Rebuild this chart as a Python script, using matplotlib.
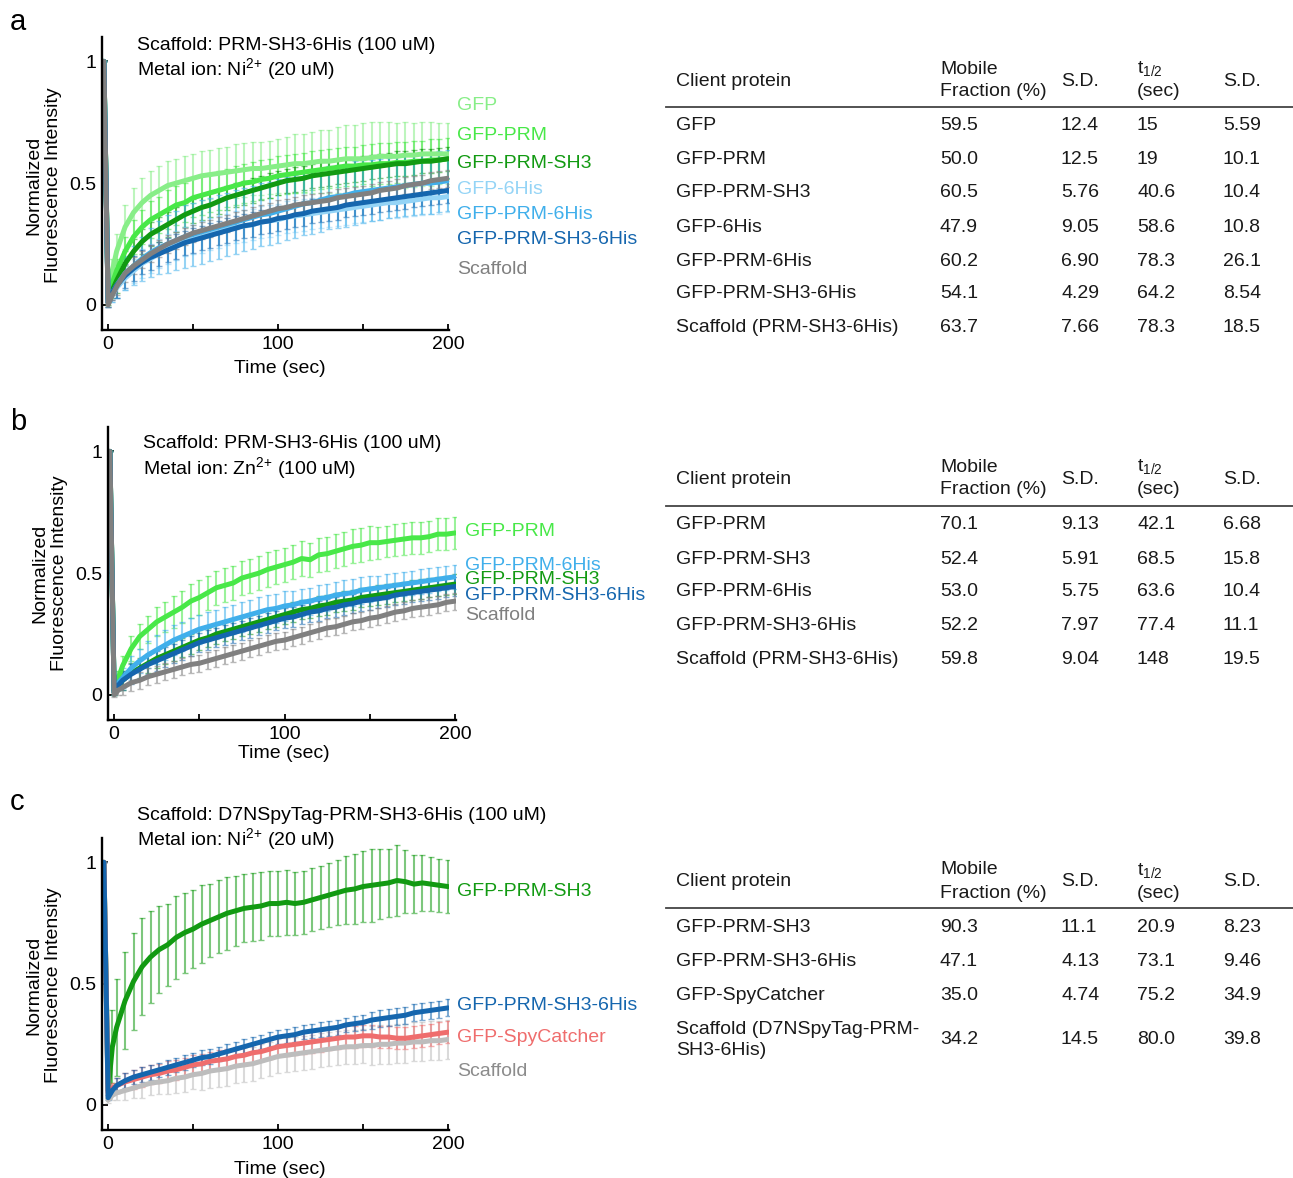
import numpy as np
import matplotlib
matplotlib.use('Agg')
import matplotlib.pyplot as plt
from matplotlib.lines import Line2D
from matplotlib.colors import to_rgba

plt.rcParams['font.family'] = ['Liberation Sans', 'DejaVu Sans']
plt.rcParams['mathtext.fontset'] = 'custom'
plt.rcParams['mathtext.rm'] = 'Liberation Sans'
plt.rcParams['mathtext.it'] = 'Liberation Sans:italic'
plt.rcParams['mathtext.bf'] = 'Liberation Sans:bold'

W, H = 1293, 1178

# time points (sec): pre-bleach, bleach, then every 5 s
time_s = np.concatenate([[-2.5, 0, 2.5], np.arange(5, 201, 5)])

# ---------------- panel a (Ni2+ 20 uM) ----------------
a_gfp = [1.0, 0.03, 0.14,
         0.22, 0.32, 0.38, 0.42, 0.45, 0.47, 0.49, 0.50, 0.51, 0.52,
         0.53, 0.535, 0.54, 0.545, 0.55, 0.555, 0.56, 0.56, 0.565, 0.57,
         0.575, 0.58, 0.58, 0.585, 0.59, 0.59, 0.595, 0.60, 0.60, 0.60,
         0.605, 0.61, 0.61, 0.61, 0.615, 0.615, 0.62, 0.62, 0.62, 0.62]
a_gfp_sd = [0, 0.02, 0.05,
            0.07, 0.09, 0.10, 0.10, 0.10, 0.10, 0.10, 0.10, 0.10, 0.10,
            0.10, 0.10, 0.105, 0.105, 0.11, 0.11, 0.11, 0.11, 0.11, 0.11,
            0.115, 0.12, 0.12, 0.125, 0.13, 0.13, 0.135, 0.14, 0.14, 0.145,
            0.145, 0.14, 0.14, 0.135, 0.135, 0.13, 0.13, 0.13, 0.125, 0.125]
a_prm = [1.0, 0.03, 0.09,
         0.14, 0.22, 0.28, 0.32, 0.35, 0.37, 0.39, 0.41, 0.42, 0.44,
         0.45, 0.46, 0.47, 0.48, 0.49, 0.50, 0.505, 0.515, 0.52, 0.53,
         0.535, 0.54, 0.545, 0.55, 0.555, 0.56, 0.565, 0.57, 0.57, 0.575,
         0.575, 0.58, 0.58, 0.585, 0.585, 0.59, 0.59, 0.595, 0.595, 0.60]
a_prm_sd = [0, 0.02, 0.04,
            0.05, 0.06, 0.07, 0.07, 0.075, 0.075, 0.08, 0.08, 0.08, 0.08,
            0.08, 0.08, 0.08, 0.08, 0.08, 0.08, 0.08, 0.08, 0.08, 0.08,
            0.08, 0.08, 0.08, 0.08, 0.08, 0.08, 0.08, 0.08, 0.08, 0.08,
            0.085, 0.085, 0.085, 0.085, 0.085, 0.085, 0.085, 0.085, 0.085, 0.085]
a_prm_sh3 = [1.0, 0.02, 0.06,
             0.10, 0.17, 0.22, 0.26, 0.29, 0.31, 0.33, 0.35, 0.37, 0.385,
             0.40, 0.41, 0.425, 0.44, 0.45, 0.46, 0.47, 0.48, 0.49, 0.50,
             0.51, 0.515, 0.52, 0.53, 0.535, 0.54, 0.545, 0.55, 0.555, 0.56,
             0.565, 0.57, 0.575, 0.58, 0.58, 0.585, 0.59, 0.59, 0.595, 0.60]
a_prm_sh3_sd = [0, 0.02, 0.03,
                0.05, 0.05, 0.05, 0.05, 0.05, 0.05, 0.05, 0.05, 0.05, 0.05,
                0.05, 0.05, 0.05, 0.05, 0.05, 0.05, 0.05, 0.05, 0.05, 0.05,
                0.05, 0.05, 0.05, 0.05, 0.05, 0.05, 0.05, 0.05, 0.05, 0.05,
                0.05, 0.05, 0.05, 0.05, 0.05, 0.05, 0.05, 0.05, 0.05, 0.05]
a_his = [1.0, 0.01, 0.04,
         0.07, 0.11, 0.14, 0.17, 0.19, 0.21, 0.23, 0.245, 0.26, 0.27,
         0.28, 0.29, 0.30, 0.31, 0.32, 0.325, 0.33, 0.34, 0.345, 0.35,
         0.36, 0.365, 0.37, 0.375, 0.38, 0.385, 0.39, 0.395, 0.40, 0.405,
         0.41, 0.415, 0.42, 0.42, 0.425, 0.43, 0.435, 0.44, 0.44, 0.445]
a_his_sd = [0, 0.02, 0.03,
            0.04, 0.05, 0.05, 0.06, 0.06, 0.06, 0.06, 0.06, 0.06, 0.06,
            0.065, 0.065, 0.065, 0.065, 0.065, 0.065, 0.065, 0.065, 0.065, 0.065,
            0.065, 0.065, 0.065, 0.065, 0.065, 0.065, 0.065, 0.065, 0.065, 0.065,
            0.065, 0.065, 0.065, 0.065, 0.065, 0.065, 0.065, 0.065, 0.065, 0.065]
a_prm_his = [1.0, 0.01, 0.05,
             0.08, 0.13, 0.16, 0.19, 0.215, 0.235, 0.25, 0.265, 0.28, 0.29,
             0.30, 0.31, 0.32, 0.33, 0.34, 0.35, 0.36, 0.37, 0.375, 0.385,
             0.395, 0.405, 0.415, 0.42, 0.43, 0.44, 0.445, 0.45, 0.46, 0.465,
             0.47, 0.475, 0.48, 0.485, 0.49, 0.495, 0.50, 0.50, 0.505, 0.51]
a_prm_his_sd = [0, 0.02, 0.04,
                0.05, 0.07, 0.08, 0.09, 0.10, 0.11, 0.12, 0.12, 0.13, 0.13,
                0.13, 0.13, 0.13, 0.13, 0.13, 0.13, 0.13, 0.13, 0.13, 0.13,
                0.13, 0.13, 0.13, 0.13, 0.13, 0.13, 0.13, 0.13, 0.13, 0.13,
                0.125, 0.125, 0.125, 0.125, 0.125, 0.125, 0.125, 0.125, 0.125, 0.125]
a_prm_sh3_his = [1.0, 0.01, 0.05,
                 0.08, 0.12, 0.15, 0.175, 0.195, 0.21, 0.225, 0.24, 0.255, 0.265,
                 0.275, 0.285, 0.295, 0.305, 0.315, 0.325, 0.33, 0.34, 0.345, 0.355,
                 0.36, 0.37, 0.375, 0.385, 0.39, 0.395, 0.40, 0.41, 0.415, 0.42,
                 0.425, 0.43, 0.435, 0.44, 0.445, 0.45, 0.455, 0.46, 0.465, 0.47]
a_prm_sh3_his_sd = [0, 0.02, 0.03,
                    0.05, 0.05, 0.05, 0.05, 0.05, 0.05, 0.05, 0.05, 0.05, 0.05,
                    0.05, 0.05, 0.05, 0.05, 0.05, 0.05, 0.05, 0.05, 0.05, 0.05,
                    0.05, 0.05, 0.05, 0.05, 0.05, 0.05, 0.05, 0.05, 0.05, 0.05,
                    0.05, 0.05, 0.05, 0.05, 0.05, 0.05, 0.05, 0.05, 0.05, 0.05]
a_scaf = [1.0, 0.0, 0.04,
          0.075, 0.13, 0.16, 0.185, 0.21, 0.23, 0.25, 0.265, 0.28, 0.295,
          0.305, 0.315, 0.325, 0.335, 0.345, 0.355, 0.365, 0.375, 0.385, 0.395,
          0.40, 0.41, 0.415, 0.42, 0.425, 0.43, 0.44, 0.445, 0.45, 0.455,
          0.46, 0.47, 0.475, 0.48, 0.49, 0.495, 0.50, 0.51, 0.515, 0.52]
a_scaf_sd = [0, 0.01, 0.02,
             0.035, 0.035, 0.035, 0.035, 0.035, 0.035, 0.035, 0.035, 0.035, 0.035,
             0.035, 0.035, 0.035, 0.035, 0.035, 0.035, 0.035, 0.035, 0.035, 0.035,
             0.035, 0.035, 0.035, 0.035, 0.035, 0.035, 0.035, 0.035, 0.035, 0.035,
             0.035, 0.035, 0.035, 0.035, 0.035, 0.035, 0.035, 0.035, 0.035, 0.035]

# ---------------- panel b (Zn2+ 100 uM) ----------------
b_prm = [1.0, 0.02, 0.07,
         0.12, 0.19, 0.24, 0.27, 0.30, 0.32, 0.34, 0.36, 0.385, 0.40,
         0.42, 0.44, 0.45, 0.46, 0.48, 0.49, 0.50, 0.515, 0.525, 0.535,
         0.545, 0.56, 0.555, 0.575, 0.58, 0.59, 0.60, 0.61, 0.615, 0.625,
         0.625, 0.63, 0.635, 0.64, 0.645, 0.645, 0.65, 0.66, 0.66, 0.665]
b_prm_sd = [0, 0.02, 0.03,
            0.04, 0.05, 0.05, 0.055, 0.06, 0.06, 0.065, 0.065, 0.07, 0.07,
            0.07, 0.07, 0.07, 0.07, 0.07, 0.07, 0.07, 0.07, 0.07, 0.07,
            0.07, 0.07, 0.07, 0.07, 0.07, 0.07, 0.07, 0.07, 0.07, 0.07,
            0.065, 0.065, 0.065, 0.065, 0.065, 0.065, 0.065, 0.065, 0.065, 0.065]
b_prm_sh3 = [1.0, 0.01, 0.04,
             0.06, 0.09, 0.11, 0.13, 0.15, 0.165, 0.18, 0.195, 0.21, 0.225,
             0.235, 0.25, 0.26, 0.27, 0.28, 0.29, 0.30, 0.31, 0.32, 0.33,
             0.34, 0.35, 0.355, 0.365, 0.37, 0.38, 0.385, 0.39, 0.40, 0.405,
             0.41, 0.415, 0.42, 0.425, 0.43, 0.435, 0.44, 0.445, 0.45, 0.455]
b_prm_sh3_sd = [0, 0.01, 0.02,
                0.04, 0.04, 0.04, 0.04, 0.04, 0.04, 0.04, 0.04, 0.04, 0.04,
                0.04, 0.04, 0.04, 0.04, 0.04, 0.04, 0.04, 0.04, 0.04, 0.04,
                0.04, 0.04, 0.04, 0.04, 0.04, 0.04, 0.04, 0.04, 0.04, 0.04,
                0.04, 0.04, 0.04, 0.04, 0.04, 0.04, 0.04, 0.04, 0.04, 0.04]
b_prm_his = [1.0, 0.01, 0.05,
             0.07, 0.11, 0.14, 0.165, 0.185, 0.205, 0.225, 0.24, 0.255, 0.27,
             0.28, 0.29, 0.30, 0.31, 0.32, 0.33, 0.34, 0.35, 0.355, 0.365,
             0.37, 0.38, 0.385, 0.395, 0.40, 0.41, 0.415, 0.42, 0.43, 0.435,
             0.44, 0.445, 0.45, 0.455, 0.46, 0.465, 0.47, 0.475, 0.48, 0.485]
b_prm_his_sd = [0, 0.01, 0.03,
                0.04, 0.05, 0.05, 0.055, 0.06, 0.06, 0.06, 0.06, 0.06, 0.06,
                0.06, 0.06, 0.06, 0.06, 0.06, 0.06, 0.06, 0.06, 0.06, 0.06,
                0.055, 0.055, 0.055, 0.055, 0.055, 0.055, 0.055, 0.055, 0.055, 0.055,
                0.05, 0.05, 0.05, 0.05, 0.05, 0.05, 0.05, 0.05, 0.05, 0.05]
b_prm_sh3_his = [1.0, 0.01, 0.04,
                 0.06, 0.085, 0.105, 0.125, 0.14, 0.155, 0.17, 0.185, 0.20, 0.215,
                 0.225, 0.235, 0.245, 0.255, 0.265, 0.275, 0.285, 0.295, 0.305, 0.315,
                 0.32, 0.33, 0.34, 0.345, 0.355, 0.36, 0.37, 0.375, 0.385, 0.39,
                 0.395, 0.40, 0.41, 0.415, 0.42, 0.425, 0.43, 0.435, 0.44, 0.445]
b_prm_sh3_his_sd = [0, 0.01, 0.02,
                    0.04, 0.04, 0.04, 0.04, 0.04, 0.04, 0.04, 0.04, 0.04, 0.04,
                    0.04, 0.04, 0.04, 0.04, 0.04, 0.04, 0.04, 0.04, 0.04, 0.04,
                    0.04, 0.04, 0.04, 0.04, 0.04, 0.04, 0.04, 0.04, 0.04, 0.04,
                    0.04, 0.04, 0.04, 0.04, 0.04, 0.04, 0.04, 0.04, 0.04, 0.04]
b_scaf = [1.0, 0.0, 0.02,
          0.03, 0.05, 0.06, 0.075, 0.085, 0.095, 0.105, 0.115, 0.125, 0.13,
          0.14, 0.15, 0.16, 0.17, 0.18, 0.19, 0.20, 0.21, 0.22, 0.225,
          0.235, 0.245, 0.255, 0.265, 0.275, 0.28, 0.29, 0.30, 0.305, 0.315,
          0.32, 0.33, 0.34, 0.345, 0.355, 0.36, 0.365, 0.37, 0.38, 0.385]
b_scaf_sd = [0, 0.01, 0.02,
             0.03, 0.035, 0.035, 0.035, 0.035, 0.035, 0.035, 0.035, 0.035, 0.035,
             0.035, 0.035, 0.035, 0.035, 0.035, 0.035, 0.035, 0.035, 0.035, 0.035,
             0.035, 0.035, 0.035, 0.035, 0.035, 0.035, 0.035, 0.035, 0.035, 0.035,
             0.035, 0.035, 0.035, 0.035, 0.035, 0.035, 0.035, 0.035, 0.035, 0.035]

# ---------------- panel c (D7NSpyTag scaffold, Ni2+ 20 uM) ----------------
c_prm_sh3 = [1.0, 0.06, 0.24,
             0.32, 0.43, 0.51, 0.57, 0.61, 0.64, 0.66, 0.69, 0.71, 0.725,
             0.745, 0.76, 0.775, 0.79, 0.80, 0.81, 0.815, 0.82, 0.83, 0.83,
             0.835, 0.83, 0.835, 0.845, 0.855, 0.865, 0.875, 0.885, 0.89, 0.90,
             0.905, 0.91, 0.915, 0.925, 0.92, 0.91, 0.915, 0.91, 0.905, 0.90]
c_prm_sh3_sd = [0, 0.03, 0.15,
                0.20, 0.20, 0.20, 0.20, 0.19, 0.18, 0.17, 0.17, 0.165, 0.16,
                0.16, 0.15, 0.15, 0.15, 0.145, 0.14, 0.14, 0.14, 0.135, 0.135,
                0.135, 0.13, 0.13, 0.13, 0.13, 0.13, 0.135, 0.14, 0.145, 0.145,
                0.15, 0.145, 0.14, 0.145, 0.13, 0.12, 0.115, 0.11, 0.11, 0.11]
c_prm_sh3_his = [1.0, 0.03, 0.06,
                 0.08, 0.10, 0.115, 0.125, 0.135, 0.145, 0.155, 0.165, 0.175, 0.185,
                 0.195, 0.20, 0.21, 0.22, 0.23, 0.24, 0.25, 0.26, 0.27, 0.28,
                 0.285, 0.29, 0.30, 0.305, 0.31, 0.315, 0.32, 0.33, 0.335, 0.34,
                 0.35, 0.355, 0.36, 0.365, 0.37, 0.38, 0.385, 0.39, 0.395, 0.40]
c_prm_sh3_his_sd = [0, 0.01, 0.02,
                    0.03, 0.03, 0.03, 0.03, 0.03, 0.03, 0.03, 0.03, 0.03, 0.03,
                    0.03, 0.03, 0.03, 0.03, 0.03, 0.03, 0.03, 0.03, 0.03, 0.03,
                    0.03, 0.03, 0.03, 0.03, 0.03, 0.03, 0.03, 0.03, 0.03, 0.03,
                    0.035, 0.035, 0.035, 0.035, 0.035, 0.035, 0.035, 0.035, 0.035, 0.035]
c_spy = [1.0, 0.05, 0.07,
         0.08, 0.095, 0.105, 0.115, 0.125, 0.13, 0.14, 0.145, 0.155, 0.165,
         0.17, 0.18, 0.185, 0.19, 0.20, 0.205, 0.215, 0.22, 0.23, 0.24,
         0.245, 0.25, 0.255, 0.26, 0.265, 0.27, 0.275, 0.28, 0.28, 0.285,
         0.285, 0.28, 0.28, 0.275, 0.275, 0.28, 0.285, 0.29, 0.295, 0.30]
c_spy_sd = [0, 0.01, 0.02,
            0.03, 0.035, 0.04, 0.04, 0.04, 0.04, 0.04, 0.04, 0.04, 0.04,
            0.04, 0.04, 0.04, 0.04, 0.04, 0.04, 0.04, 0.04, 0.04, 0.04,
            0.045, 0.045, 0.045, 0.045, 0.045, 0.045, 0.045, 0.045, 0.045, 0.045,
            0.045, 0.045, 0.045, 0.045, 0.045, 0.045, 0.045, 0.045, 0.045, 0.045]
c_scaf = [1.0, 0.02, 0.04,
          0.05, 0.06, 0.07, 0.08, 0.09, 0.095, 0.10, 0.11, 0.115, 0.125,
          0.13, 0.14, 0.145, 0.15, 0.16, 0.165, 0.17, 0.18, 0.19, 0.20,
          0.205, 0.21, 0.215, 0.22, 0.225, 0.23, 0.235, 0.24, 0.24, 0.245,
          0.245, 0.25, 0.25, 0.255, 0.255, 0.26, 0.26, 0.265, 0.265, 0.27]
c_scaf_sd = [0, 0.01, 0.02,
             0.03, 0.04, 0.04, 0.05, 0.05, 0.05, 0.055, 0.06, 0.06, 0.06,
             0.07, 0.07, 0.07, 0.07, 0.07, 0.07, 0.07, 0.07, 0.07, 0.07,
             0.07, 0.07, 0.07, 0.07, 0.07, 0.07, 0.07, 0.07, 0.07, 0.07,
             0.08, 0.08, 0.08, 0.08, 0.08, 0.08, 0.08, 0.08, 0.08, 0.08]

# ---------------- tables ----------------
tab_a_names = ['GFP', 'GFP-PRM', 'GFP-PRM-SH3', 'GFP-6His', 'GFP-PRM-6His',
               'GFP-PRM-SH3-6His', 'Scaffold (PRM-SH3-6His)']
tab_a_mf = ['59.5', '50.0', '60.5', '47.9', '60.2', '54.1', '63.7']
tab_a_mf_sd = ['12.4', '12.5', '5.76', '9.05', '6.90', '4.29', '7.66']
tab_a_t = ['15', '19', '40.6', '58.6', '78.3', '64.2', '78.3']
tab_a_t_sd = ['5.59', '10.1', '10.4', '10.8', '26.1', '8.54', '18.5']

tab_b_names = ['GFP-PRM', 'GFP-PRM-SH3', 'GFP-PRM-6His', 'GFP-PRM-SH3-6His',
               'Scaffold (PRM-SH3-6His)']
tab_b_mf = ['70.1', '52.4', '53.0', '52.2', '59.8']
tab_b_mf_sd = ['9.13', '5.91', '5.75', '7.97', '9.04']
tab_b_t = ['42.1', '68.5', '63.6', '77.4', '148']
tab_b_t_sd = ['6.68', '15.8', '10.4', '11.1', '19.5']

tab_c_names = ['GFP-PRM-SH3', 'GFP-PRM-SH3-6His', 'GFP-SpyCatcher',
               'Scaffold (D7NSpyTag-PRM-\nSH3-6His)']
tab_c_mf = ['90.3', '47.1', '35.0', '34.2']
tab_c_mf_sd = ['11.1', '4.13', '4.74', '14.5']
tab_c_t = ['20.9', '73.1', '75.2', '80.0']
tab_c_t_sd = ['8.23', '9.46', '34.9', '39.8']

# colours
C_GFP = '#88ee88'
C_PRM = '#48e848'
C_SH3 = '#129a12'
C_HIS = '#94d4f6'
C_PRMHIS = '#40afeb'
C_SH3HIS = '#1566ae'
C_SCAF = '#808080'
C_SPY = '#ef6d6d'
C_SCAF_C = '#bdbdbd'

FS = 14
fig = plt.figure(figsize=(W / 100, H / 100), dpi=100)


def fx(x):
    return x / W


def fy(y):
    return 1 - y / H


def ft(y):
    # text centre (va='center' sits a touch high)
    return 1 - (y + 2) / H


def draw_series(ax, mean, sd, color, lw=3.6):
    ax.errorbar(time_s, mean, yerr=sd, fmt='-', color=color, lw=lw,
                ecolor=to_rgba(color, 0.55), elinewidth=1.5,
                capsize=2.2, capthick=1.0, solid_capstyle='round')


def setup_axes(ax):
    ax.set_xlim(-3.6, 200.6)
    ax.set_ylim(-0.103, 1.10)
    for s in ['top', 'right']:
        ax.spines[s].set_visible(False)
    for s in ['left', 'bottom']:
        ax.spines[s].set_linewidth(1.7)
    ax.set_xticks([0, 50, 100, 150, 200])
    ax.set_xticklabels(['0', '', '100', '', '200'])
    ax.set_yticks([0, 0.5, 1])
    ax.set_yticklabels(['0', '0.5', '1'])
    ax.tick_params(direction='in', length=4, width=1.3, labelsize=FS, pad=4)


def panel(rect, series, ylab_xy, xlab_xy, legend):
    ax = fig.add_axes(rect)
    for mean, sd, col in series:
        draw_series(ax, mean, sd, col)
    setup_axes(ax)
    fig.text(fx(ylab_xy[0]), fy(ylab_xy[1]), 'Normalized\nFluorescence Intensity',
             rotation=90, ha='center', va='center', fontsize=FS, multialignment='center')
    fig.text(fx(xlab_xy[0]), ft(xlab_xy[1]), 'Time (sec)', ha='center', va='center',
             fontsize=FS)
    for txt, col, x, y in legend:
        fig.text(fx(x), ft(y), txt, color=col, ha='left', va='center', fontsize=FS)
    return ax


# panel a
panel([102 / W, 1 - 330 / H, 347 / W, 293 / H],
      [(a_gfp, a_gfp_sd, C_GFP), (a_prm, a_prm_sd, C_PRM),
       (a_prm_sh3, a_prm_sh3_sd, C_SH3), (a_his, a_his_sd, C_HIS),
       (a_prm_his, a_prm_his_sd, C_PRMHIS),
       (a_prm_sh3_his, a_prm_sh3_his_sd, C_SH3HIS),
       (a_scaf, a_scaf_sd, C_SCAF)],
      (44, 185), (280, 366),
      [('GFP', C_GFP, 457, 103), ('GFP-PRM', C_PRM, 457, 134),
       ('GFP-PRM-SH3', C_SH3, 457, 162), ('GFP-6His', C_HIS, 457, 187),
       ('GFP-PRM-6His', C_PRMHIS, 457, 212),
       ('GFP-PRM-SH3-6His', C_SH3HIS, 457, 238), ('Scaffold', C_SCAF, 457, 267)])

# panel b (labels crowd each other as in the original figure)
panel([108 / W, 1 - 720 / H, 348 / W, 293 / H],
      [(b_prm, b_prm_sd, C_PRM), (b_prm_sh3, b_prm_sh3_sd, C_SH3),
       (b_prm_his, b_prm_his_sd, C_PRMHIS),
       (b_prm_sh3_his, b_prm_sh3_his_sd, C_SH3HIS),
       (b_scaf, b_scaf_sd, C_SCAF)],
      (50, 573), (284, 752),
      [('GFP-PRM', C_PRM, 465, 529), ('GFP-PRM-6His', C_PRMHIS, 465, 563),
       ('GFP-PRM-SH3', C_SH3, 465, 577), ('GFP-PRM-SH3-6His', C_SH3HIS, 465, 594),
       ('Scaffold', C_SCAF, 465, 613)])

# panel c
panel([102 / W, 1 - 1130 / H, 347 / W, 292 / H],
      [(c_prm_sh3, c_prm_sh3_sd, C_SH3), (c_scaf, c_scaf_sd, C_SCAF_C),
       (c_spy, c_spy_sd, C_SPY), (c_prm_sh3_his, c_prm_sh3_his_sd, C_SH3HIS)],
      (44, 985), (280, 1167),
      [('GFP-PRM-SH3', C_SH3, 457, 889), ('GFP-PRM-SH3-6His', C_SH3HIS, 457, 1004),
       ('GFP-SpyCatcher', C_SPY, 457, 1035), ('Scaffold', '#8c8c8c', 457, 1069)])

# condition annotations
fig.text(fx(137), ft(43), 'Scaffold: PRM-SH3-6His (100 uM)', fontsize=FS, va='center')
fig.text(fx(137), ft(67), r'Metal ion: Ni$^{2{+}}$ (20 uM)', fontsize=FS, va='center')
fig.text(fx(143), ft(442), 'Scaffold: PRM-SH3-6His (100 uM)', fontsize=FS, va='center')
fig.text(fx(143), ft(466), r'Metal ion: Zn$^{2{+}}$ (100 uM)', fontsize=FS, va='center')
fig.text(fx(137), ft(814), 'Scaffold: D7NSpyTag-PRM-SH3-6His (100 uM)', fontsize=FS,
         va='center')
fig.text(fx(137), ft(837), r'Metal ion: Ni$^{2{+}}$ (20 uM)', fontsize=FS, va='center')

# panel letters
for letter, y in [('a', 20), ('b', 420), ('c', 800)]:
    fig.text(fx(10), ft(y), letter, fontsize=21, va='center', ha='left')


def table(y_head, y_line, rows_y, names, mf, mf_sd, t, t_sd):
    cols = [676, 940, 1061, 1137, 1223]
    kw = dict(fontsize=FS, va='center', ha='left', color='#1a1a1a')
    fig.text(fx(cols[0]), ft(y_head), 'Client protein', **kw)
    fig.text(fx(cols[1]), ft(y_head - 12), 'Mobile', **kw)
    fig.text(fx(cols[1]), ft(y_head + 11), 'Fraction (%)', **kw)
    fig.text(fx(cols[2]), ft(y_head), 'S.D.', **kw)
    fig.text(fx(cols[3]), ft(y_head - 12), r't$_{1/2}$', **kw)
    fig.text(fx(cols[3]), ft(y_head + 11), '(sec)', **kw)
    fig.text(fx(cols[4]), ft(y_head), 'S.D.', **kw)
    fig.add_artist(Line2D([fx(666), fx(1293)], [fy(y_line), fy(y_line)],
                          color='#444444', lw=1.3))
    for i, y in enumerate(rows_y):
        fig.text(fx(cols[0]), ft(y), names[i], linespacing=1.25, **kw)
        for c, vals in zip(cols[1:], [mf, mf_sd, t, t_sd]):
            fig.text(fx(c), ft(y), vals[i], **kw)


table(79, 107, [124, 158, 191, 225, 259, 292, 326],
      tab_a_names, tab_a_mf, tab_a_mf_sd, tab_a_t, tab_a_t_sd)
table(477, 506, [523, 557, 590, 624, 658],
      tab_b_names, tab_b_mf, tab_b_mf_sd, tab_b_t, tab_b_t_sd)
table(880, 908, [926, 959, 993, 1038],
      tab_c_names, tab_c_mf, tab_c_mf_sd, tab_c_t, tab_c_t_sd)

fig.savefig('out.png', dpi=100)
